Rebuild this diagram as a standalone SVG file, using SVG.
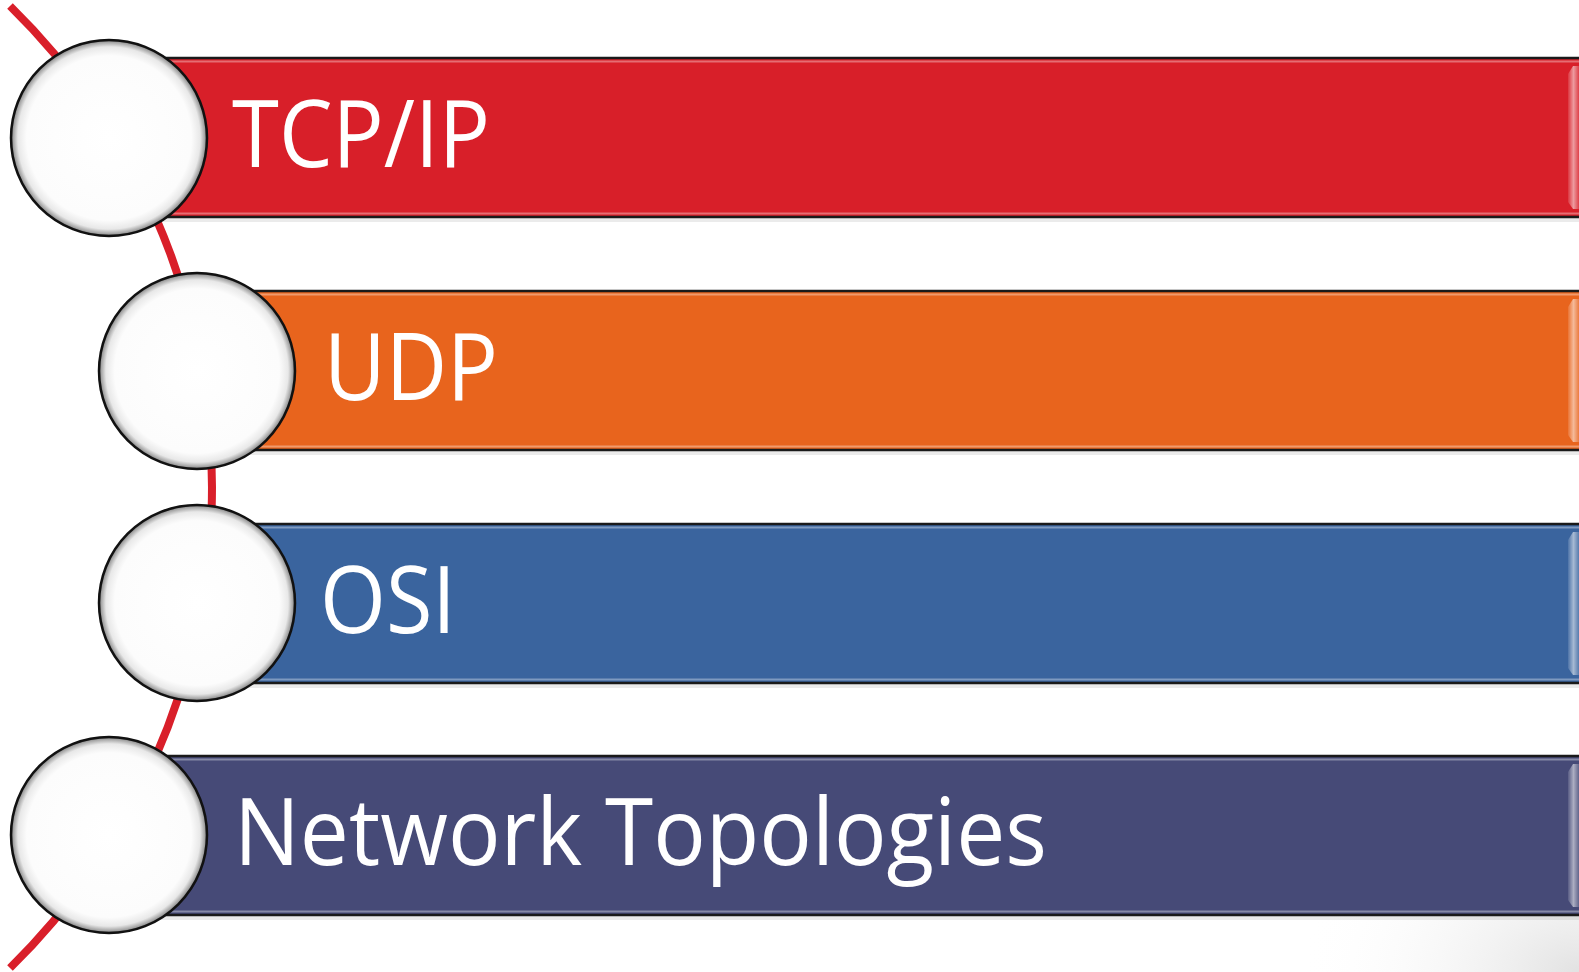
<svg xmlns="http://www.w3.org/2000/svg" width="1579" height="972" viewBox="0 0 1579 972">
<defs>
<radialGradient id="ball" cx="50%" cy="50%" r="50%">
<stop offset="0" stop-color="#ffffff"/>
<stop offset="0.84" stop-color="#fcfcfc"/>
<stop offset="0.93" stop-color="#e8e8e8"/>
<stop offset="0.98" stop-color="#a0a0a0"/>
<stop offset="1" stop-color="#606060"/>
</radialGradient>
<radialGradient id="corner" cx="100%" cy="100%" r="100%">
<stop offset="0" stop-color="#e2e2e2"/>
<stop offset="1" stop-color="#ffffff" stop-opacity="0"/>
</radialGradient>
<linearGradient id="bevel" x1="0" y1="0" x2="1" y2="0">
<stop offset="0" stop-color="#ffffff" stop-opacity="0.1"/>
<stop offset="0.5" stop-color="#ffffff" stop-opacity="0.55"/>
<stop offset="1" stop-color="#ffffff" stop-opacity="0.15"/>
</linearGradient>
</defs>
<style>
.bar{stroke:#1a1a1a;stroke-width:2.5}
.shadow{fill:#000;opacity:0.08}
.hl{fill:none;stroke:#ffffff;stroke-opacity:0.35;stroke-width:2}
.ball{fill:url(#ball);stroke:#111;stroke-width:2.5}
.lbl{font-family:"Open Sans","Liberation Sans",sans-serif;font-size:93px;fill:#ffffff}
.arc{fill:none;stroke:#d91f2a;stroke-width:8;stroke-linecap:butt}
</style>
<rect x="1300" y="780" width="279" height="192" fill="url(#corner)"/>
<g id="connectors">
<path class="arc" d="M 10 6 A 673.7 673.7 0 0 1 10 968"/>
</g>
<g id="node-tcpip">
<rect class="shadow" x="150" y="60" width="1440" height="162"/>
<rect class="bar" x="150" y="58" width="1440" height="159" fill="#d81f29"/>
<path class="hl" d="M150 61.5 H1579 M150 213.5 H1579"/>
<path d="M1568 74 L1573 66 L1579 66 L1579 209 L1573 209 L1568 202 Z" fill="url(#bevel)"/>
<circle class="ball" cx="109" cy="138" r="98"/>
<text class="lbl" x="232" y="167" textLength="258" lengthAdjust="spacingAndGlyphs">TCP/IP</text>
</g>
<g id="node-udp">
<rect class="shadow" x="240" y="293" width="1350" height="162"/>
<rect class="bar" x="240" y="291" width="1350" height="159" fill="#e8641d"/>
<path class="hl" d="M240 294.5 H1579 M240 446.5 H1579"/>
<path d="M1568 307 L1573 299 L1579 299 L1579 442 L1573 442 L1568 435 Z" fill="url(#bevel)"/>
<circle class="ball" cx="197" cy="371" r="98"/>
<text class="lbl" x="324" y="400" textLength="174" lengthAdjust="spacingAndGlyphs">UDP</text>
</g>
<g id="node-osi">
<rect class="shadow" x="240" y="526" width="1350" height="162"/>
<rect class="bar" x="240" y="524" width="1350" height="159" fill="#3a649e"/>
<path class="hl" d="M240 527.5 H1579 M240 679.5 H1579"/>
<path d="M1568 540 L1573 532 L1579 532 L1579 675 L1573 675 L1568 668 Z" fill="url(#bevel)"/>
<circle class="ball" cx="197" cy="603" r="98"/>
<text class="lbl" x="320" y="633" textLength="136" lengthAdjust="spacingAndGlyphs">OSI</text>
</g>
<g id="node-topologies">
<rect class="shadow" x="150" y="758" width="1440" height="162"/>
<rect class="bar" x="150" y="756" width="1440" height="159" fill="#464a77"/>
<path class="hl" d="M150 759.5 H1579 M150 911.5 H1579"/>
<path d="M1568 772 L1573 764 L1579 764 L1579 907 L1573 907 L1568 900 Z" fill="url(#bevel)"/>
<circle class="ball" cx="109" cy="835" r="98"/>
<text class="lbl" x="234" y="865" textLength="813" lengthAdjust="spacingAndGlyphs">Network Topologies</text>
</g>
</svg>
